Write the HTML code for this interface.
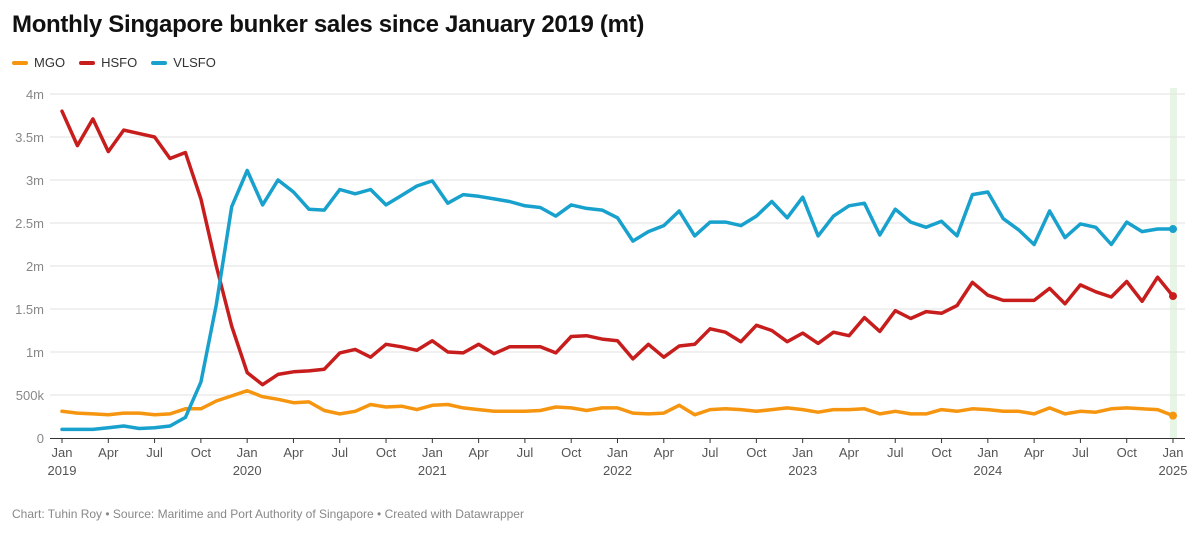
<!DOCTYPE html>
<html><head><meta charset="utf-8"><style>
body{margin:0;background:#fff;font-family:"Liberation Sans",sans-serif;}
.wrap{position:relative;width:1200px;height:534px;overflow:hidden}
h1{position:absolute;left:12px;top:11px;margin:0;font-size:24px;font-weight:bold;color:#111;letter-spacing:-0.3px}
.legend{position:absolute;left:12px;top:55px;font-size:13px;color:#333;display:flex;gap:14px}
.legend span{display:flex;align-items:center}
.legend i{display:inline-block;width:16px;height:4px;border-radius:2px;margin-right:6px}
.foot{position:absolute;left:12px;top:507px;font-size:12px;color:#888}
</style></head><body>
<div class="wrap">
<h1>Monthly Singapore bunker sales since January 2019 (mt)</h1>
<div class="legend">
<span><i style="background:#f6950f"></i>MGO</span>
<span><i style="background:#c71e1d"></i>HSFO</span>
<span><i style="background:#18a1cd"></i>VLSFO</span>
</div>
<svg id="svg" width="1200" height="534" style="position:absolute;left:0;top:0"></svg>
<div class="foot">Chart: Tuhin Roy • Source: Maritime and Port Authority of Singapore • Created with Datawrapper</div>
</div>
<script>
const vlsfo=[.10,.10,.10,.12,.14,.11,.12,.14,.24,.65,1.55,2.69,
3.11,2.71,3.0,2.86,2.66,2.65,2.89,2.84,2.89,2.71,2.82,2.93,
2.99,2.73,2.83,2.81,2.78,2.75,2.70,2.68,2.58,2.71,2.67,2.65,
2.56,2.29,2.40,2.47,2.64,2.35,2.51,2.51,2.47,2.58,2.75,2.56,
2.80,2.35,2.58,2.70,2.73,2.36,2.66,2.51,2.45,2.52,2.35,2.83,
2.86,2.55,2.42,2.25,2.64,2.33,2.49,2.45,2.25,2.51,2.40,2.43,2.43];
const hsfo=[3.80,3.40,3.71,3.33,3.58,3.54,3.50,3.25,3.32,2.78,2.0,1.30,
0.76,0.62,0.74,0.77,0.78,0.80,0.99,1.03,0.94,1.09,1.06,1.02,
1.13,1.00,0.99,1.09,0.98,1.06,1.06,1.06,0.99,1.18,1.19,1.15,
1.13,0.92,1.09,0.94,1.07,1.09,1.27,1.23,1.12,1.31,1.25,1.12,
1.22,1.10,1.23,1.19,1.40,1.24,1.48,1.39,1.47,1.45,1.54,1.81,
1.66,1.60,1.60,1.60,1.74,1.56,1.78,1.70,1.64,1.82,1.59,1.87,1.65];
const mgo=[.31,.29,.28,.27,.29,.29,.27,.28,.34,.34,.43,.49,
.55,.48,.45,.41,.42,.32,.28,.31,.39,.36,.37,.33,
.38,.39,.35,.33,.31,.31,.31,.32,.36,.35,.32,.35,
.35,.29,.28,.29,.38,.27,.33,.34,.33,.31,.33,.35,
.33,.30,.33,.33,.34,.28,.31,.28,.28,.33,.31,.34,
.33,.31,.31,.28,.35,.28,.31,.30,.34,.35,.34,.33,.26];
const yTicks=[0,0.5,1,1.5,2,2.5,3,3.5,4];
const yTickLabels=["0","500k","1m","1.5m","2m","2.5m","3m","3.5m","4m"];
const monthLabels=["Jan","Apr","Jul","Oct"];
const years=["2019","2020","2021","2022","2023","2024","2025"];

const NS="http://www.w3.org/2000/svg",svg=document.getElementById('svg');
const X0=62,X1=1173,Y0=438,Y1=94;
const x=i=>X0+(X1-X0)*i/72;
const y=v=>Y0-(Y0-Y1)*v/4;
function mk(t,a){const e=document.createElementNS(NS,t);for(const k in a)e.setAttribute(k,a[k]);svg.appendChild(e);return e;}
const hl=mk('rect',{x:X1-3,y:88,width:7,height:Y0-88,fill:'#e6f5e6'});


yTicks.forEach((t,i)=>{
  if(t>0){const g=mk('line',{x1:50,x2:1185,y1:y(t),y2:y(t),stroke:'#e2e2e2','stroke-width':1});
  
  }
  const tx=mk('text',{x:44,y:y(t)+5,'text-anchor':'end','font-size':13,fill:'#888','font-family':'Liberation Sans'});
  tx.textContent=yTickLabels[i];
  
  
});
const ax=mk('line',{x1:50,x2:1185,y1:Y0+0.5,y2:Y0+0.5,stroke:'#333','stroke-width':1});


for(let i=0;i<=72;i+=3){
  const tk=mk('line',{x1:x(i),x2:x(i),y1:Y0,y2:Y0+5,stroke:'#333','stroke-width':1});
  
  
  const t=mk('text',{x:x(i),y:457,'text-anchor':'middle','font-size':13,fill:'#555','font-family':'Liberation Sans'});
  t.textContent=monthLabels[(i/3)%4];
  
  
  if(i%12===0){const yt=mk('text',{x:x(i),y:475,'text-anchor':'middle','font-size':13,fill:'#555','font-family':'Liberation Sans'});
  yt.textContent=years[i/12];
  
  }
}
[[mgo,'#f6950f','mgo'],[hsfo,'#c71e1d','hsfo'],[vlsfo,'#18a1cd','vlsfo']].forEach(([d,c,n])=>{
  const p=mk('path',{d:d.map((v,i)=>(i?'L':'M')+x(i).toFixed(1)+','+y(v).toFixed(1)).join(''),fill:'none',stroke:c,'stroke-width':3.5,'stroke-linejoin':'round','stroke-linecap':'round'});
  
  
  const dot=mk('circle',{cx:x(d.length-1),cy:y(d[d.length-1]),r:4,fill:c});
  
  
});
</script>
</body></html>
